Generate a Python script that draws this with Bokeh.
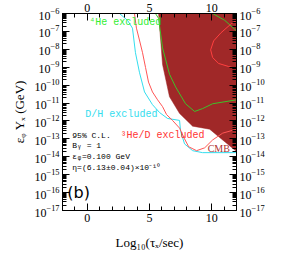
import numpy as np
from bokeh.plotting import figure
from bokeh.models import FixedTicker, LinearAxis, LogAxis, Range1d, LogTickFormatter
from bokeh.core.properties import value
from bokeh.embed import file_html
from bokeh.resources import INLINE

# ---- data (x = log10 tau, y = log10 of eps*Y) ----
cmb_x = [5.73, 6.05, 6.61, 7.42, 8.47, 9.84, 12.0, 12.0]
cmb_ly = [-6.0, -8.85, -10.65, -11.58, -12.29, -12.46, -13.70, -6.0]

he4_x = [5.48, 5.73, 6.05, 6.61, 7.10, 7.90, 8.63, 9.27, 10.08, 12.0]
he4_ly = [-6.0, -6.27, -7.92, -9.39, -10.10, -11.04, -11.47, -11.31, -11.04, -10.82]
he4b_x = [10.08, 11.05, 12.0]
he4b_ly = [-6.0, -6.38, -6.97]

dh_x = [2.58, 3.23, 3.63, 3.87, 4.19, 4.60, 5.24, 5.81, 6.45, 7.42, 7.50, 7.82, 8.47, 9.27, 12.0]
dh_ly = [-6.0, -6.38, -6.82, -8.19, -9.28, -10.38, -11.09, -11.53, -11.86, -11.97, -12.57, -13.28, -13.66, -13.77, -13.77]

he3_x = [3.79, 3.95, 4.19, 4.44, 4.68, 4.92, 5.24, 5.65, 6.05, 6.37, 6.85, 7.42, 7.82, 8.15, 8.79, 9.44, 10.08, 10.89, 12.0]
he3_ly = [-6.0, -6.82, -7.48, -8.19, -9.01, -9.83, -10.38, -10.82, -11.20, -11.64, -11.97, -12.40, -13.00, -13.44, -13.66, -13.50, -13.06, -12.68, -12.46]
he3b_x = [12.0, 11.53, 10.73, 10.16, 9.92, 10.08, 10.56, 11.37, 12.0]
he3b_ly = [-6.38, -6.60, -7.09, -7.53, -8.03, -8.46, -8.79, -8.96, -9.07]

x_major = [0, 5, 10]
x_minor = list(range(-2, 13))
y_major_exp = list(range(-17, -5))

def Y(a):
    return [10.0 ** v for v in a]

p = figure(width=267, height=256, output_backend="svg", toolbar_location=None,
           x_range=Range1d(-2, 12), y_range=Range1d(1e-17, 1e-6), y_axis_type="log",
           min_border_left=62, min_border_right=30, min_border_top=10, min_border_bottom=46)
p.xgrid.visible = False
p.ygrid.visible = False
p.outline_line_color = "black"
p.background_fill_color = "white"
p.border_fill_color = "white"

p.patch(cmb_x, Y(cmb_ly), fill_color="#A02828", line_color="#A02828", line_width=0.5)
p.line(he4_x, Y(he4_ly), line_color="#3EC22A", line_width=1)
p.line(he4b_x, Y(he4b_ly), line_color="#3EC22A", line_width=1)
p.line(dh_x, Y(dh_ly), line_color="#33DDEE", line_width=1)
p.line(he3_x, Y(he3_ly), line_color="#FF5555", line_width=1)
p.line(he3b_x, Y(he3b_ly), line_color="#FF4040", line_width=1)

mono = value("Liberation Mono")
p.text([0.16], [10 ** -6.5], text=["⁴He excluded"], text_color="#33EE33",
       text_font=mono, text_font_size="10px", text_baseline="middle")
p.text([-0.16], [10 ** -11.64], text=["D/H excluded"], text_color="#33DDEE",
       text_font=mono, text_font_size="10px", text_baseline="middle")
p.text([2.66], [10 ** -12.84], text=["³He/D excluded"], text_color="#FF3333",
       text_font=mono, text_font_size="10px", text_baseline="middle")
info = ["95% C.L.", "Bᵧ = 1", "εᵩ=0.100 GeV", "η=(6.13±0.04)×10⁻¹⁰"]
info_y = [-12.79, -13.39, -13.99, -14.59]
p.text([-1.21] * 4, Y(info_y), text=info, text_color="black",
       text_font=mono, text_font_size="8px", text_baseline="middle")
p.text([-1.61], [10 ** -16.02], text=["(b)"], text_color="black",
       text_font=value("DejaVu Sans"), text_font_size="16px", text_baseline="middle")
p.text([9.68], [10 ** -13.55], text=["CMB"], text_color="#B03030",
       text_font=value("Liberation Serif"), text_font_size="10px", text_baseline="middle")

xt = FixedTicker(ticks=x_major, minor_ticks=x_minor)
yt = FixedTicker(ticks=[10.0 ** k for k in y_major_exp],
                 minor_ticks=[m * 10.0 ** k for k in y_major_exp[:-1] for m in range(2, 10)])

bottom = p.below[0]
left = p.left[0]
top = LinearAxis()
right = LogAxis()
p.add_layout(top, "above")
p.add_layout(right, "right")

for ax in [bottom, top]:
    ax.ticker = xt
for ax in [left, right]:
    ax.ticker = yt
    ax.formatter = LogTickFormatter()

for ax in [bottom, top, left, right]:
    ax.major_tick_in = 7
    ax.major_tick_out = 0
    ax.minor_tick_in = 4
    ax.minor_tick_out = 0
    ax.axis_line_color = "black"
    ax.major_tick_line_color = "black"
    ax.minor_tick_line_color = "black"
    ax.major_label_text_font = "Liberation Serif"
    ax.major_label_text_font_size = "12px"
    ax.major_label_text_color = "black"
    ax.major_label_standoff = 3
    ax.axis_label_text_font = "Liberation Serif"
    ax.axis_label_text_font_style = "normal"
    ax.axis_label_text_font_size = "13px"
    ax.axis_label_text_color = "black"

top.major_label_standoff = 2
bottom.axis_label = "Log₁₀(τₓ/sec)"
bottom.axis_label_standoff = 10
left.axis_label = "εᵩ Yₓ (GeV)"
left.axis_label_standoff = 4

open("out.html", "w").write(file_html(p, INLINE))
